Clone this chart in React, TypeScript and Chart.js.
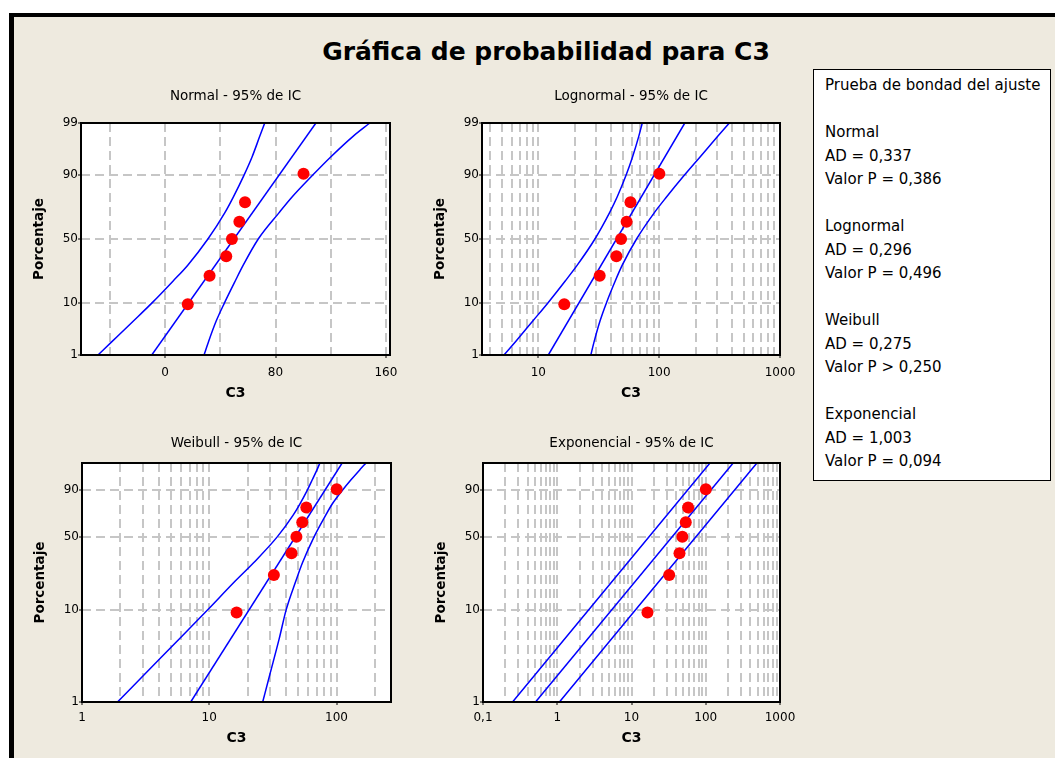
import React, { useEffect, useRef } from "react";
import { Chart, registerables } from "chart.js";

Chart.register(...registerables);
Chart.defaults.font.family = "'DejaVu Sans', sans-serif";

// ---------------- data ----------------
const chartTitle = "Gráfica de probabilidad para C3";

// sample values of C3 and their plotting positions (%)
const c3Values = [16.4, 32.2, 44.3, 48.4, 53.8, 57.9, 100.3];
const plotPercents = [9.5, 23.0, 36.5, 50.0, 63.5, 77.0, 90.5];

// percent levels at which the confidence bands were read
const bandLevels = [1, 2, 5, 10, 20, 30, 50, 70, 80, 90, 95, 98, 99];
const fitLevels = [1, 99];

// Normal
const normalLeft = [-48.7, -38.4, -23.0, -9.5, 5.8, 16.4, 31.0, 43.2, 49.4, 57.2, 63.0, 68.5, 72.2];
const normalRight = [28.2, 31.5, 37.0, 43.0, 50.8, 56.6, 67.5, 82.5, 92.0, 107.0, 120.0, 136.0, 148.4];
const normalFit = [-9.7, 109.3];

// Lognormal
const lognormalLeft = [5.2, 6.5, 9.0, 12.0, 16.7, 21.0, 29.4, 38.8, 44.9, 53.3, 60.2, 67.7, 72.5];
const lognormalRight = [27.2, 29.0, 32.4, 36.6, 43.3, 49.5, 65.0, 91.0, 115.0, 162.0, 218.0, 304.0, 381.0];
const lognormalFit = [12.1, 163.0];

// Weibull
const weibullLeft = [1.9, 3.08, 5.86, 9.64, 16.0, 22.3, 34.2, 45.5, 51.5, 59.0, 64.5, 70.5, 74.0];
const weibullRight = [26.3, 29.9, 35.5, 40.1, 47.9, 54.0, 66.6, 82.1, 92.5, 111.7, 130.0, 153.5, 170.6];
const weibullFit = [7.15, 110.7];

// Exponencial
const expLeft = [0.25, 114.0];
const expRight = [1.07, 489.0];
const expFit = [0.51, 234.0];

// axis ticks
const normalYTicks = [1, 10, 50, 90, 99];
const weibullYTicks = [1, 10, 50, 90];

const normalXGrid = [-40, 0, 40, 80, 120, 160];
const normalXLabelValues = [0, 80, 160];
const normalXLabels = ["0", "80", "160"];

const lognormalXGrid = [4, 5, 6, 7, 8, 9, 10, 20, 30, 40, 50, 60, 70, 80, 90, 100, 200, 300, 400, 500, 600, 700, 800, 900, 1000];
const lognormalXLabelValues = [10, 100, 1000];
const lognormalXLabels = ["10", "100", "1000"];

const weibullXGrid = [1, 2, 3, 4, 5, 6, 7, 8, 9, 10, 20, 30, 40, 50, 60, 70, 80, 90, 100, 200];
const weibullXLabelValues = [1, 10, 100];
const weibullXLabels = ["1", "10", "100"];

const expXGrid = [0.1, 0.2, 0.3, 0.4, 0.5, 0.6, 0.7, 0.8, 0.9, 1, 2, 3, 4, 5, 6, 7, 8, 9, 10, 20, 30, 40, 50, 60, 70, 80, 90, 100, 200, 300, 400, 500, 600, 700, 800, 900, 1000];
const expXLabelValues = [0.1, 1, 10, 100, 1000];
const expXLabels = ["0,1", "1", "10", "100", "1000"];

const goodnessLines = [
  "Prueba de bondad del ajuste",
  "",
  "Normal",
  "AD = 0,337",
  "Valor P = 0,386",
  "",
  "Lognormal",
  "AD = 0,296",
  "Valor P = 0,496",
  "",
  "Weibull",
  "AD = 0,275",
  "Valor P > 0,250",
  "",
  "Exponencial",
  "AD = 1,003",
  "Valor P = 0,094",
];

// ---------------- probability scale transforms ----------------
function probit(p: number): number {
  const a = [-3.969683028665376e1, 2.209460984245205e2, -2.759285104469687e2, 1.38357751867269e2, -3.066479806614716e1, 2.506628277459239];
  const b = [-5.447609879822406e1, 1.615858368580409e2, -1.556989798598866e2, 6.680131188771972e1, -1.328068155288572e1];
  const c = [-7.784894002430293e-3, -3.223964580411365e-1, -2.400758277161838, -2.549732539343734, 4.374664141464968, 2.938163982698783];
  const d = [7.784695709041462e-3, 3.224671290700398e-1, 2.445134137142996, 3.754408661907416];
  const pl = 0.02425;
  if (p < pl) {
    const q = Math.sqrt(-2 * Math.log(p));
    return (((((c[0] * q + c[1]) * q + c[2]) * q + c[3]) * q + c[4]) * q + c[5]) / ((((d[0] * q + d[1]) * q + d[2]) * q + d[3]) * q + 1);
  }
  if (p <= 1 - pl) {
    const q = p - 0.5;
    const r = q * q;
    return ((((((a[0] * r + a[1]) * r + a[2]) * r + a[3]) * r + a[4]) * r + a[5]) * q) / (((((b[0] * r + b[1]) * r + b[2]) * r + b[3]) * r + b[4]) * r + 1);
  }
  const q = Math.sqrt(-2 * Math.log(1 - p));
  return -(((((c[0] * q + c[1]) * q + c[2]) * q + c[3]) * q + c[4]) * q + c[5]) / ((((d[0] * q + d[1]) * q + d[2]) * q + d[3]) * q + 1);
}
const normalY = (pct: number) => probit(pct / 100);
const weibullY = (pct: number) => Math.log(-Math.log(1 - pct / 100));

// ---------------- layout ----------------
const BG = "#EEEADF";
const Y_AXIS_W = 56;
const X_AXIS_H = 50;
const TOP_H = 36;
const RIGHT_PAD = 18;

type PanelCfg = {
  title: string;
  left: number;
  top: number;
  w: number;
  h: number;
  row: 0 | 1;
  xType: "linear" | "logarithmic";
  xMin: number;
  xMax: number;
  xGrid: number[];
  xLabelValues: number[];
  xLabels: string[];
  yKind: "normal" | "weibull";
  yTicks: number[];
  bandP: number[];
  leftBand: number[];
  rightBand: number[];
  fit: number[];
};

const panels: PanelCfg[] = [
  {
    title: "Normal - 95% de IC", left: 81, top: 123, w: 309, h: 232, row: 0,
    xType: "linear", xMin: -61, xMax: 163, xGrid: normalXGrid, xLabelValues: normalXLabelValues, xLabels: normalXLabels,
    yKind: "normal", yTicks: normalYTicks, bandP: bandLevels, leftBand: normalLeft, rightBand: normalRight, fit: normalFit,
  },
  {
    title: "Lognormal - 95% de IC", left: 482, top: 123, w: 298, h: 232, row: 0,
    xType: "logarithmic", xMin: 3.42, xMax: 1000, xGrid: lognormalXGrid, xLabelValues: lognormalXLabelValues, xLabels: lognormalXLabels,
    yKind: "normal", yTicks: normalYTicks, bandP: bandLevels, leftBand: lognormalLeft, rightBand: lognormalRight, fit: lognormalFit,
  },
  {
    title: "Weibull - 95% de IC", left: 82, top: 463, w: 309, h: 239, row: 1,
    xType: "logarithmic", xMin: 1, xMax: 268, xGrid: weibullXGrid, xLabelValues: weibullXLabelValues, xLabels: weibullXLabels,
    yKind: "weibull", yTicks: weibullYTicks, bandP: bandLevels, leftBand: weibullLeft, rightBand: weibullRight, fit: weibullFit,
  },
  {
    title: "Exponencial - 95% de IC", left: 483, top: 463, w: 297, h: 239, row: 1,
    xType: "logarithmic", xMin: 0.1, xMax: 1000, xGrid: expXGrid, xLabelValues: expXLabelValues, xLabels: expXLabels,
    yKind: "weibull", yTicks: weibullYTicks, bandP: fitLevels, leftBand: expLeft, rightBand: expRight, fit: expFit,
  },
];

const framePlugin = {
  id: "plotFrame",
  beforeDraw(chart: any) {
    const { ctx, chartArea } = chart;
    ctx.save();
    ctx.fillStyle = "#ffffff";
    ctx.fillRect(chartArea.left, chartArea.top, chartArea.right - chartArea.left, chartArea.bottom - chartArea.top);
    ctx.restore();
  },
  afterDraw(chart: any) {
    const { ctx, chartArea } = chart;
    ctx.save();
    ctx.strokeStyle = "#000000";
    ctx.lineWidth = 2;
    ctx.setLineDash([]);
    ctx.strokeRect(chartArea.left, chartArea.top, chartArea.right - chartArea.left, chartArea.bottom - chartArea.top);
    ctx.restore();
  },
};

function labelIndex(values: number[], v: number): number {
  return values.findIndex((t) => Math.abs(t - v) <= Math.abs(t) * 1e-9 + 1e-12);
}

function ProbPanel({ cfg }: { cfg: PanelCfg }) {
  const ref = useRef<HTMLCanvasElement>(null);
  const cw = Y_AXIS_W + cfg.w + RIGHT_PAD;
  const ch = TOP_H + cfg.h + X_AXIS_H;

  useEffect(() => {
    const yT = cfg.yKind === "normal" ? normalY : weibullY;
    const pts = (xs: number[], ps: number[]) => xs.map((x, i) => ({ x, y: yT(ps[i]) }));
    const lineDs = (data: { x: number; y: number }[]) => ({
      data,
      showLine: true,
      borderColor: "#0000FF",
      borderWidth: 1.5,
      pointRadius: 0,
      pointHoverRadius: 0,
      fill: false,
      cubicInterpolationMode: "monotone",
      order: 1,
    });
    const isTop = cfg.row === 0;
    const gridColor = "#C6C6C6";

    const chart = new Chart(ref.current as HTMLCanvasElement, {
      type: "scatter",
      data: {
        datasets: [
          {
            data: pts(c3Values, plotPercents),
            pointRadius: 6,
            pointHoverRadius: 6,
            backgroundColor: "#FF0000",
            borderWidth: 0,
            order: 0,
          } as any,
          lineDs(pts(cfg.leftBand, cfg.bandP)) as any,
          lineDs(pts(cfg.fit, fitLevels)) as any,
          lineDs(pts(cfg.rightBand, cfg.bandP)) as any,
        ],
      },
      options: {
        animation: false,
        responsive: false,
        devicePixelRatio: 1,
        events: [],
        layout: { padding: { left: 0, top: 0, right: RIGHT_PAD, bottom: 0 } },
        plugins: { legend: { display: false }, tooltip: { enabled: false }, title: { display: false } },
        scales: {
          x: {
            type: cfg.xType,
            position: "bottom",
            min: cfg.xMin,
            max: cfg.xMax,
            afterBuildTicks: (s: any) => {
              s.ticks = cfg.xGrid.map((v) => ({ value: v }));
            },
            afterFit: (s: any) => {
              s.height = X_AXIS_H;
              s.paddingLeft = 0;
              s.paddingRight = 0;
            },
            ticks: {
              autoSkip: false,
              maxRotation: 0,
              minRotation: 0,
              padding: isTop ? 7.5 : 5.5,
              color: "#000",
              font: { size: 12 },
              callback: (v: any) => {
                const i = labelIndex(cfg.xLabelValues, Number(v));
                return i >= 0 ? cfg.xLabels[i] : "";
              },
            },
            grid: {
              color: gridColor,
              lineWidth: 2,
              drawTicks: true,
              tickLength: 3,
              tickWidth: 1,
              tickBorderDash: [],
              tickColor: (ctx: any) =>
                ctx.tick && labelIndex(cfg.xLabelValues, ctx.tick.value) >= 0 ? "#000" : "rgba(0,0,0,0)",
            },
            border: { display: false, dash: [9, 5] },
            title: {
              display: true,
              text: "C3",
              color: "#000",
              font: { size: 14, weight: "bold" },
              padding: { top: 0, bottom: isTop ? 3.3 : 5.4 },
            },
          } as any,
          x2: {
            type: "linear",
            position: "top",
            min: 0,
            max: 1,
            afterFit: (s: any) => {
              s.height = TOP_H;
              s.paddingLeft = 0;
              s.paddingRight = 0;
            },
            ticks: { display: false },
            grid: { display: false },
            border: { display: false },
            title: {
              display: true,
              text: cfg.title,
              color: "#000",
              font: { size: 13.5, weight: "normal" },
              padding: { top: isTop ? 1.6 : 8.2, bottom: 0 },
            },
          } as any,
          y: {
            type: "linear",
            min: yT(1),
            max: yT(99),
            afterBuildTicks: (s: any) => {
              s.ticks = cfg.yTicks.map((p) => ({ value: yT(p) }));
            },
            afterFit: (s: any) => {
              s.width = Y_AXIS_W;
              s.paddingTop = 0;
              s.paddingBottom = 0;
            },
            ticks: {
              autoSkip: false,
              padding: 0,
              color: "#000",
              font: { size: 12 },
              callback: (_v: any, i: number) => String(cfg.yTicks[i]),
            },
            grid: {
              color: gridColor,
              lineWidth: 2,
              drawTicks: true,
              tickLength: 3,
              tickWidth: 1,
              tickBorderDash: [],
              tickColor: "#000",
            },
            border: { display: false, dash: [9, 5] },
            title: {
              display: true,
              text: "Porcentaje",
              color: "#000",
              font: { size: 13.5, weight: "bold" },
              padding: { top: 6.2, bottom: 0 },
            },
          } as any,
        },
      },
      plugins: [framePlugin],
    });
    return () => chart.destroy();
  }, []);

  return (
    <canvas
      ref={ref}
      width={cw}
      height={ch}
      style={{
        position: "absolute",
        left: cfg.left - Y_AXIS_W,
        top: cfg.top - TOP_H,
        width: cw,
        height: ch,
      }}
    />
  );
}

export default function App() {
  return (
    <div
      style={{
        position: "fixed",
        left: 0,
        top: 0,
        width: 1055,
        height: 758,
        background: "#ffffff",
        overflow: "hidden",
        fontFamily: "'DejaVu Sans', sans-serif",
      }}
    >
      <div
        style={{
          position: "absolute",
          left: 9,
          top: 13,
          width: 1200,
          height: 900,
          background: BG,
          borderLeft: "5px solid #000",
          borderTop: "4px solid #000",
          boxSizing: "border-box",
        }}
      />
      <div
        style={{
          position: "absolute",
          left: 0,
          top: 36,
          width: 1092,
          height: 32,
          lineHeight: "32px",
          textAlign: "center",
          fontSize: 25,
          fontWeight: "bold",
          color: "#000",
          whiteSpace: "nowrap",
        }}
      >
        {chartTitle}
      </div>
      {panels.map((p) => (
        <ProbPanel key={p.title} cfg={p} />
      ))}
      <div
        style={{
          position: "absolute",
          left: 813,
          top: 69,
          width: 238,
          height: 412,
          boxSizing: "border-box",
          border: "1px solid #000",
          background: "#fff",
          paddingLeft: 11,
          paddingTop: 4.25,
          fontSize: 15,
          color: "#000",
        }}
      >
        {goodnessLines.map((t, i) => (
          <div key={i} style={{ height: 23.5, lineHeight: "23.5px", whiteSpace: "nowrap" }}>
            {t === "" ? "\u00a0" : t}
          </div>
        ))}
      </div>
    </div>
  );
}
